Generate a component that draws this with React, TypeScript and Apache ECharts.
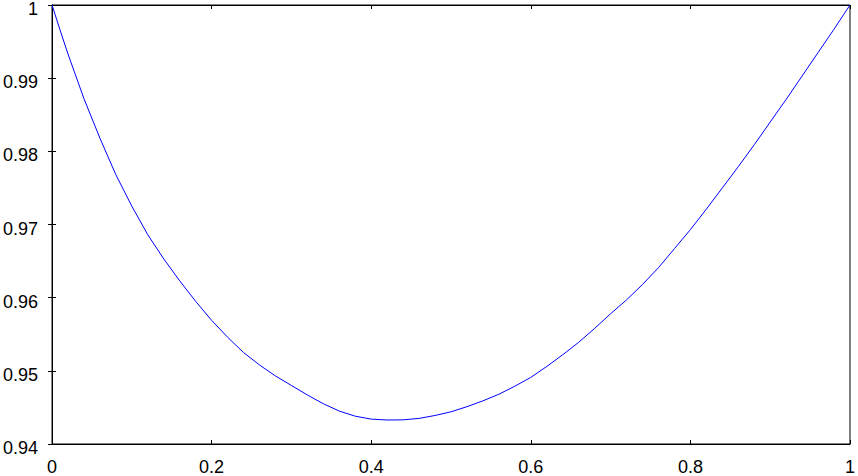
import React, { useEffect, useRef } from "react";
import * as echarts from "echarts";

const xValues = [0, 0.01, 0.02, 0.04, 0.06, 0.08, 0.1, 0.12, 0.14, 0.16, 0.18, 0.2, 0.22, 0.24, 0.26, 0.28, 0.3, 0.32, 0.34, 0.36, 0.38, 0.4, 0.42, 0.44, 0.46, 0.48, 0.5, 0.52, 0.54, 0.56, 0.58, 0.6, 0.62, 0.64, 0.66, 0.68, 0.7, 0.72, 0.74, 0.76, 0.78, 0.8, 0.82, 0.84, 0.86, 0.88, 0.9, 0.92, 0.94, 0.96, 0.98, 1];
const yValues = [1.0, 0.9966, 0.9933, 0.9872, 0.9818, 0.9768, 0.9725, 0.9686, 0.9653, 0.9623, 0.9595, 0.9569, 0.9546, 0.9525, 0.9508, 0.9493, 0.948, 0.9467, 0.9455, 0.9445, 0.9438, 0.9434, 0.94328, 0.9433, 0.9435, 0.9439, 0.9444, 0.9451, 0.9459, 0.9468, 0.9479, 0.9491, 0.9506, 0.9522, 0.9539, 0.9558, 0.9578, 0.9597, 0.9618, 0.9641, 0.9667, 0.9693, 0.9721, 0.975, 0.9779, 0.9809, 0.984, 0.9871, 0.9903, 0.9935, 0.9967, 1.0];

const FONT = "'Liberation Sans', Arial, sans-serif";

export default function App() {
  const ref = useRef<HTMLDivElement>(null);
  useEffect(() => {
    if (!ref.current) return;
    const chart = echarts.init(ref.current, null, { renderer: "svg" });
    const data = xValues.map((x, i) => [x, yValues[i]]);
    const tickStyle = { show: true, inside: true, length: 4, lineStyle: { color: "#000", width: 1 } };
    chart.setOption({
      animation: false,
      backgroundColor: "#fff",
      grid: { left: 51.5, top: 4.3, right: 4.7, bottom: 32, show: true, borderColor: "#000", borderWidth: 1, backgroundColor: "transparent" },
      xAxis: [
        {
          type: "value", min: 0, max: 1, interval: 0.2, position: "bottom",
          axisLine: { show: true, lineStyle: { color: "#000" } },
          axisTick: tickStyle,
          splitLine: { show: false },
          axisLabel: { color: "#000", fontSize: 18, fontFamily: FONT, margin: 14 },
        },
        {
          type: "value", min: 0, max: 1, interval: 0.2, position: "top",
          axisLine: { show: true, lineStyle: { color: "#000" } },
          axisTick: tickStyle,
          splitLine: { show: false },
          axisLabel: { show: false },
        },
      ],
      yAxis: [
        {
          type: "value", min: 0.94, max: 1, interval: 0.01, position: "left",
          axisLine: { show: true, lineStyle: { color: "#000" } },
          axisTick: tickStyle,
          splitLine: { show: false },
          axisLabel: { color: "#000", fontSize: 18, fontFamily: FONT, margin: 14, verticalAlign: "top", lineHeight: 8 },
        },
        {
          type: "value", min: 0.94, max: 1, interval: 0.01, position: "right",
          axisLine: { show: true, lineStyle: { color: "#000" } },
          axisTick: tickStyle,
          splitLine: { show: false },
          axisLabel: { show: false },
        },
      ],
      series: [
        {
          type: "line",
          data,
          xAxisIndex: 0,
          yAxisIndex: 0,
          smooth: false,
          showSymbol: false,
          lineStyle: { color: "#0000ff", width: 1 },
        },
      ],
    });
    return () => chart.dispose();
  }, []);
  return <div ref={ref} style={{ width: 858, height: 476, position: "absolute", left: 0, top: 0 }} />;
}
